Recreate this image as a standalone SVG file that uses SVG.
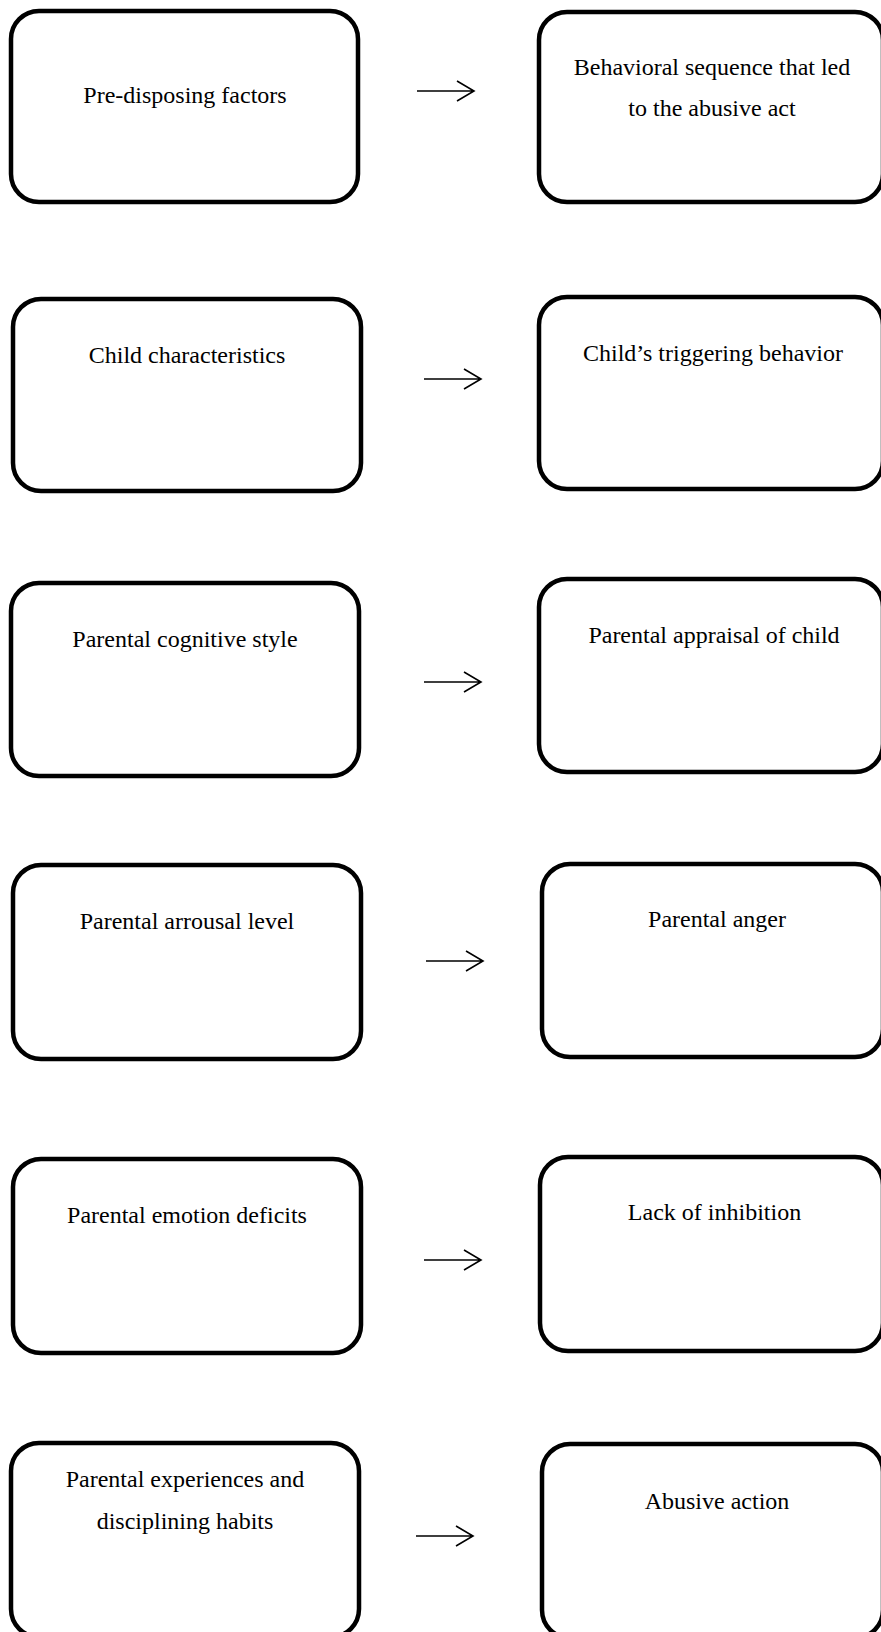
<svg xmlns="http://www.w3.org/2000/svg" width="881" height="1632" viewBox="0 0 881 1632">
<style>
.box{fill:#fff;stroke:#000;stroke-width:4.5}
.t{font-family:"Liberation Serif","Times New Roman",serif;font-size:24px;fill:#000;text-anchor:middle}
.arr{fill:none;stroke:#000;stroke-width:1.6}
</style>
<rect width="881" height="1632" fill="#fff"/>
<g id="n1"><rect class="box" x="11" y="11" width="347" height="191" rx="28"/><text class="t" x="185" y="103">Pre-disposing factors</text></g>
<g id="n2"><rect class="box" x="539" y="12" width="344" height="190" rx="28"/><text class="t" x="712" y="75">Behavioral sequence that led</text><text class="t" x="712" y="116">to the abusive act</text></g>
<g id="n3"><rect class="box" x="13" y="299" width="348" height="192" rx="28"/><text class="t" x="187" y="363">Child characteristics</text></g>
<g id="n4"><rect class="box" x="539" y="297" width="344" height="192" rx="28"/><text class="t" x="713" y="361">Child’s triggering behavior</text></g>
<g id="n5"><rect class="box" x="11" y="583" width="348" height="193" rx="28"/><text class="t" x="185" y="647">Parental cognitive style</text></g>
<g id="n6"><rect class="box" x="539" y="579" width="344" height="193" rx="28"/><text class="t" x="714" y="643">Parental appraisal of child</text></g>
<g id="n7"><rect class="box" x="13" y="865" width="348" height="194" rx="28"/><text class="t" x="187" y="929">Parental arrousal level</text></g>
<g id="n8"><rect class="box" x="542" y="864" width="341" height="193" rx="28"/><text class="t" x="717" y="927">Parental anger</text></g>
<g id="n9"><rect class="box" x="13" y="1159" width="348" height="194" rx="28"/><text class="t" x="187" y="1223">Parental emotion deficits</text></g>
<g id="n10"><rect class="box" x="540" y="1157" width="343" height="194" rx="28"/><text class="t" x="714.5" y="1220">Lack of inhibition</text></g>
<g id="n11"><rect class="box" x="11" y="1443" width="348" height="194" rx="28"/><text class="t" x="185" y="1487">Parental experiences and</text><text class="t" x="185" y="1529">disciplining habits</text></g>
<g id="n12"><rect class="box" x="542" y="1444" width="341" height="194" rx="28"/><text class="t" x="717" y="1509">Abusive action</text></g>
<g id="connectors">
<path class="arr" d="M417 91H474M457 81L474 91L457 101"/>
<path class="arr" d="M424 379H481M464 369L481 379L464 389"/>
<path class="arr" d="M424 682H481M464 672L481 682L464 692"/>
<path class="arr" d="M426 961H483M466 951L483 961L466 971"/>
<path class="arr" d="M424 1260H481M464 1250L481 1260L464 1270"/>
<path class="arr" d="M416 1536H473M456 1526L473 1536L456 1546"/>
</g>
</svg>
